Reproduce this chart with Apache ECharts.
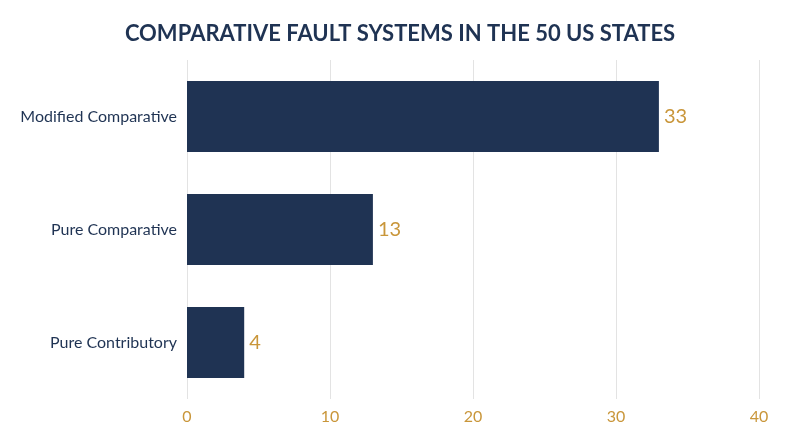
<!DOCTYPE html>
<html><head><meta charset="utf-8">
<script src="https://cdn.jsdelivr.net/npm/echarts@6/dist/echarts.min.js"></script>
<style>html,body{margin:0;padding:0;background:#fff}#c{width:800px;height:447px}</style>
</head><body><div id="c"></div>
<script>
const categories = ["Pure Contributory", "Pure Comparative", "Modified Comparative"];
const values = [4, 13, 33];
const xTicks = [0, 10, 20, 30, 40];
const chart = echarts.init(document.getElementById('c'));
chart.setOption({
  backgroundColor: '#fff',
  title: { text: 'COMPARATIVE FAULT SYSTEMS IN THE 50 US STATES', left: 'center', top: 18,
    textStyle: { fontFamily: 'Lato', fontWeight: 'bold', fontSize: 22, color: '#1f3353' } },
  grid: { left: 187, right: 41, top: 60, bottom: 48 },
  xAxis: { type: 'value', min: 0, max: 40, interval: 10,
    axisLine: { show: false }, axisTick: { show: false },
    splitLine: { lineStyle: { color: '#e3e3e3' } },
    axisLabel: { color: '#c9963a', fontFamily: 'Lato', fontSize: 16, margin: 10 } },
  yAxis: { type: 'category', data: categories,
    axisLine: { show: false }, axisTick: { show: false },
    axisLabel: { color: '#1f3353', fontFamily: 'Lato', fontSize: 16, margin: 10 } },
  series: [{ type: 'bar', data: values, barWidth: '63%',
    itemStyle: { color: '#1f3353' },
    label: { show: true, position: 'right', color: '#c9963a', fontFamily: 'Lato', fontSize: 20, distance: 5 } }]
});
</script></body></html>
